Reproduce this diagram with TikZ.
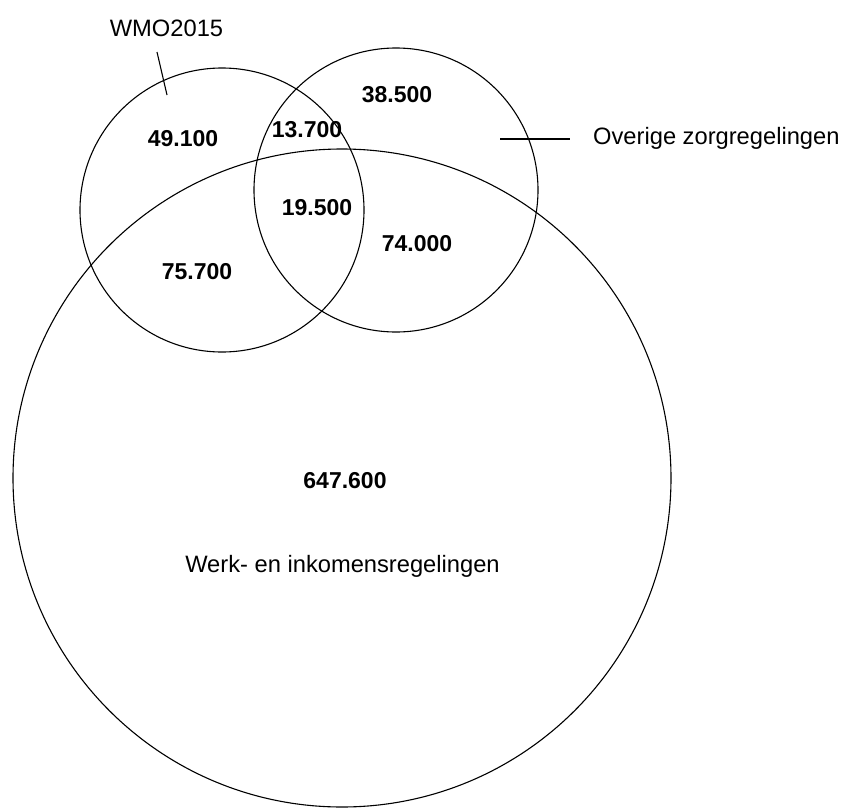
\documentclass[tikz,border=0pt]{standalone}
\usepackage{fontspec}
\setmainfont{Liberation Sans}
\begin{document}
\begin{tikzpicture}[x=1pt,y=-1pt,
  ring/.style={circle,draw=black,line width=1.1pt,inner sep=0pt},
  num/.style={font=\fontsize{23}{26}\selectfont\bfseries,inner sep=0pt,anchor=base},
  lbl/.style={font=\fontsize{23.7}{27}\selectfont,inner sep=0pt,text=black},
  tick/.style={line width=1.1pt}]
\useasboundingbox (0,0) rectangle (844,809);
% circles
\node[ring,minimum size=658pt] (werk) at (342,478) {};
\node[ring,minimum size=284pt] (wmo) at (222,210) {};
\node[ring,minimum size=284pt] (ovr) at (396,190) {};
% numbers
\node[num] (n49) at (183,146) {49.100};
\node[num] (n13) at (307,137) {13.700};
\node[num] (n38) at (397,102) {38.500};
\node[num] (n19) at (317,215) {19.500};
\node[num] (n74) at (417,251) {74.000};
\node[num] (n75) at (197,279) {75.700};
\node[num] (n647) at (345,488) {647.600};
% labels
\node[lbl,anchor=base] (lwmo) at (166.5,36) {WMO2015};
\node[lbl,anchor=base west] (lovr) at (593,144) {Overige zorgregelingen};
\node[lbl,anchor=base] (lwerk) at (342.5,572) {Werk- en inkomensregelingen};
% label ticks
\coordinate (wt1) at (157,52);
\coordinate (wt2) at (167,95);
\coordinate (ot1) at (500,139);
\coordinate (ot2) at (570,139);
\draw[tick] (wt1) -- (wt2);
\draw[tick] (ot1) -- (ot2);
\end{tikzpicture}
\end{document}
